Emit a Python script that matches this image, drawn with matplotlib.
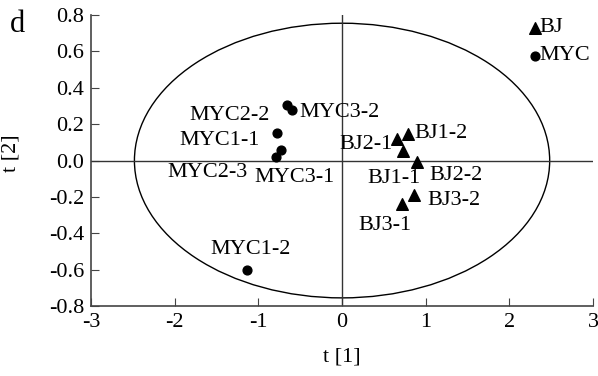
import matplotlib
matplotlib.use("Agg")
import matplotlib.pyplot as plt
import numpy as np
from matplotlib.patches import Ellipse

plt.rcParams["font.family"] = ["Liberation Serif", "DejaVu Serif"]

# 样本得分 (t[1], t[2])
bj_names = ["BJ1-1", "BJ1-2", "BJ2-1", "BJ2-2", "BJ3-1", "BJ3-2"]
bj_t1 = [0.73, 0.79, 0.66, 0.90, 0.72, 0.86]
bj_t2 = [0.05, 0.148, 0.12, -0.01, -0.24, -0.19]

myc_names = ["MYC1-1", "MYC1-2", "MYC2-2", "MYC2-3", "MYC3-1", "MYC3-2"]
myc_t1 = [-0.78, -1.14, -0.66, -0.79, -0.73, -0.60]
myc_t2 = [0.154, -0.60, 0.308, 0.022, 0.06, 0.28]

# 刻度
x_ticks = [-3, -2, -1, 0, 1, 2, 3]
y_ticks = [-0.8, -0.6, -0.4, -0.2, 0.0, 0.2, 0.4, 0.6, 0.8]
y_tick_labels = ["-0.8", "-0.6", "-0.4", "-0.2", "0.0", "0.2", "0.4", "0.6", "0.8"]

# Hotelling T2 椭圆半轴
ell_a, ell_b = 2.48, 0.755

# 标签偏移 (像素, ha)
label_off = {
    "MYC2-2": (-17, -11, "right"),
    "MYC3-2": (8, -3, "left"),
    "MYC1-1": (-17, -8, "right"),
    "MYC3-1": (14, -28, "center"),
    "MYC2-3": (-28, -16, "right"),
    "MYC1-2": (4, 20, "center"),
    "BJ2-1": (-5, -6, "right"),
    "BJ1-2": (6, 0, "left"),
    "BJ1-1": (-9, -27, "center"),
    "BJ2-2": (12, -13, "left"),
    "BJ3-2": (13, -5, "left"),
    "BJ3-1": (-17, -21, "center"),
}

FS = 16

fig = plt.figure(figsize=(5.98, 3.76), dpi=100)
ax = fig.add_axes([0.152, 0.186, 0.84, 0.774])

ax.add_patch(Ellipse((0, 0), 2 * ell_a, 2 * ell_b, fill=False, lw=1.0, color="black"))
ax.axhline(0, color="#333333", lw=1.0)
ax.axvline(0, color="#333333", lw=1.0)

ax.scatter(bj_t1, bj_t2, marker="^", s=70, c="black", zorder=3)
ax.scatter(myc_t1, myc_t2, marker="o", s=40, c="black", zorder=3)

for names, xs, ys in [(bj_names, bj_t1, bj_t2), (myc_names, myc_t1, myc_t2)]:
    for n, x, y in zip(names, xs, ys):
        dx, dy, ha = label_off[n]
        ax.annotate(n, (x, y), xytext=(dx, dy), textcoords="offset pixels",
                    ha=ha, va="center", fontsize=FS)

ax.set_xlim(-3, 3)
ax.set_ylim(-0.8, 0.8)
ax.set_xticks(x_ticks)
ax.set_yticks(y_ticks)
ax.set_xticklabels([str(v) for v in x_ticks])
ax.set_yticklabels(y_tick_labels)
ax.tick_params(direction="in", length=6, labelsize=FS, color="#444444", pad=5)
for s in ["top", "right"]:
    ax.spines[s].set_visible(False)
for s in ["left", "bottom"]:
    ax.spines[s].set_color("#444444")
    ax.spines[s].set_linewidth(1.2)

ax.set_xlabel("t [1]", fontsize=FS)
ax.set_ylabel("t [2]", fontsize=FS)
ax.xaxis.set_label_coords(0.5, -0.141)
ax.yaxis.set_label_coords(-0.14, 0.526)

# 图例
ax.scatter([2.3], [0.73], marker="^", s=70, c="black", clip_on=False)
ax.text(2.36, 0.73, "BJ", fontsize=FS, va="center")
ax.scatter([2.3], [0.577], marker="o", s=40, c="black", clip_on=False)
ax.text(2.36, 0.577, "MYC", fontsize=FS, va="center")

fig.text(0.017, 0.936, "d", fontsize=22, va="center")

fig.savefig("out.png", dpi=100)
